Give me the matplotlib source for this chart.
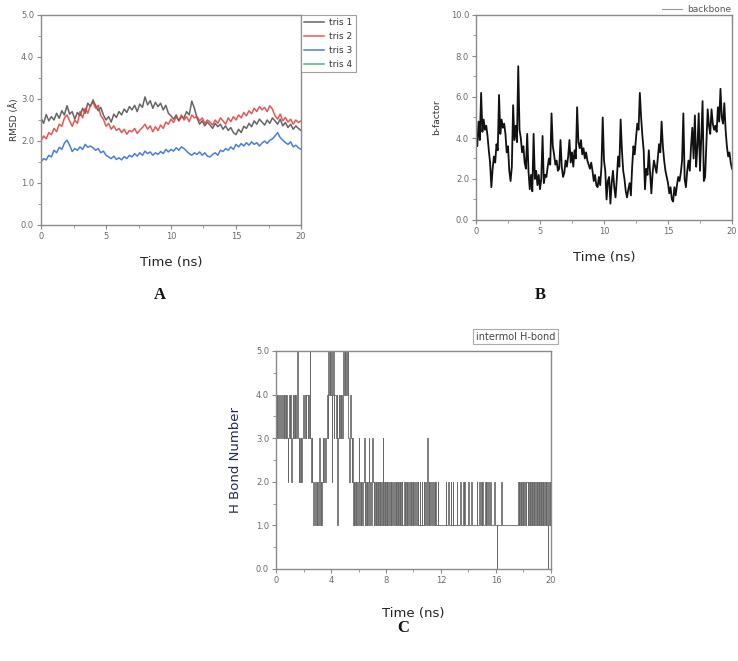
import numpy as np
import matplotlib
matplotlib.use("Agg")
import matplotlib.pyplot as plt
from matplotlib.ticker import MultipleLocator, FormatStrFormatter

# ---------------- data ----------------
# Panel A: RMSD (Å), sampled every 0.2 ns from 0 to 20 ns
rmsd_time = [round(0.2 * i, 1) for i in range(101)]
tris1 = [2.55, 2.42, 2.63, 2.48, 2.58, 2.50, 2.66, 2.54, 2.72, 2.62,
         2.84, 2.64, 2.70, 2.52, 2.68, 2.60, 2.78, 2.66, 2.90, 2.82,
         2.98, 2.84, 2.72, 2.80, 2.62, 2.50, 2.58, 2.45, 2.64, 2.56,
         2.70, 2.62, 2.76, 2.68, 2.82, 2.74, 2.85, 2.70, 2.88, 2.80,
         3.05, 2.86, 2.96, 2.78, 2.92, 2.82, 2.90, 2.74, 2.85, 2.66,
         2.60, 2.52, 2.62, 2.48, 2.58, 2.55, 2.70, 2.62, 2.95, 2.78,
         2.55, 2.40, 2.48, 2.36, 2.45, 2.38, 2.30, 2.42, 2.34, 2.40,
         2.28, 2.36, 2.25, 2.32, 2.20, 2.15, 2.28, 2.20, 2.35, 2.30,
         2.42, 2.34, 2.48, 2.40, 2.52, 2.45, 2.38, 2.50, 2.42, 2.55,
         2.48, 2.40, 2.52, 2.36, 2.44, 2.32, 2.40, 2.28, 2.36, 2.30,
         2.25]
tris2 = [2.00, 2.12, 2.05, 2.20, 2.15, 2.30, 2.22, 2.40, 2.35, 2.55,
         2.62, 2.48, 2.35, 2.50, 2.42, 2.70, 2.55, 2.78, 2.66, 2.85,
         2.92, 2.78, 2.85, 2.60, 2.52, 2.35, 2.42, 2.28, 2.36, 2.25,
         2.30, 2.20, 2.28, 2.16, 2.25, 2.22, 2.30, 2.18, 2.26, 2.32,
         2.40, 2.28, 2.36, 2.22, 2.34, 2.25, 2.38, 2.30, 2.45, 2.40,
         2.52, 2.44, 2.58, 2.48, 2.62, 2.50, 2.58, 2.46, 2.62, 2.55,
         2.58, 2.48, 2.55, 2.42, 2.50, 2.45, 2.38, 2.50, 2.42, 2.55,
         2.48, 2.40, 2.55, 2.46, 2.58, 2.50, 2.62, 2.55, 2.68, 2.60,
         2.72, 2.65, 2.78, 2.70, 2.82, 2.74, 2.80, 2.70, 2.84, 2.76,
         2.60, 2.52, 2.64, 2.48, 2.56, 2.45, 2.52, 2.40, 2.50, 2.44,
         2.48]
tris3 = [1.50, 1.58, 1.55, 1.66, 1.62, 1.78, 1.72, 1.85, 1.80, 1.95,
         2.02, 1.90, 1.75, 1.82, 1.78, 1.86, 1.80, 1.92, 1.85, 1.88,
         1.84, 1.78, 1.82, 1.72, 1.76, 1.66, 1.62, 1.58, 1.64, 1.56,
         1.60, 1.55, 1.63, 1.58, 1.66, 1.62, 1.70, 1.64, 1.72, 1.66,
         1.76, 1.70, 1.74, 1.66, 1.72, 1.68, 1.75, 1.70, 1.80, 1.74,
         1.80, 1.76, 1.84, 1.78, 1.86, 1.82, 1.76, 1.70, 1.66, 1.72,
         1.68, 1.74, 1.66, 1.72, 1.64, 1.62, 1.68, 1.72, 1.66, 1.78,
         1.75, 1.82, 1.78, 1.86, 1.80, 1.92, 1.86, 1.94, 1.88, 1.96,
         1.90, 1.98, 1.92, 1.96, 1.88, 1.95, 2.00, 1.94, 2.02, 2.05,
         2.12, 2.20, 2.08, 2.02, 1.96, 1.92, 1.98, 1.86, 1.90, 1.84,
         1.80]
tris4 = []  # listed in the legend, not visible in the plot
rmsd_labels = ["tris 1", "tris 2", "tris 3", "tris 4"]

# Panel B: backbone b-factor, sampled every 0.1 ns
bf_time = [round(0.1 * i, 1) for i in range(201)]
backbone = [4.0, 3.6, 4.8, 3.9, 6.2, 4.3, 4.9, 4.4, 4.6, 4.1,
            3.4, 2.8, 1.6, 2.5, 3.1, 2.8, 3.7, 3.4, 6.1, 4.2,
            4.9, 4.5, 4.7, 4.2, 3.3, 3.6, 2.4, 1.9, 2.6, 5.6,
            3.9, 4.6, 3.8, 7.5, 4.4, 4.0, 3.3, 3.6, 2.8, 2.5,
            4.2, 2.4, 1.5, 2.2, 1.4, 4.2, 2.0, 2.4, 1.7, 2.2,
            1.5, 2.0, 4.1, 1.8, 2.2, 2.1, 2.6, 3.0, 2.7, 5.2,
            3.6, 3.2, 2.7, 2.9, 2.4, 2.5, 3.9, 2.6, 2.1, 2.3,
            2.9, 2.6, 3.1, 3.9, 2.8, 3.3, 2.6, 3.4, 3.0, 5.5,
            3.8, 3.5, 3.9, 3.2, 3.5, 3.0, 3.3, 2.9, 2.7, 2.5,
            2.8, 2.4, 1.9, 2.2, 1.7, 1.6, 2.1, 1.7, 2.6, 5.0,
            2.9, 2.4, 1.0, 1.9, 2.1, 0.8, 1.8, 2.4, 1.6, 1.1,
            2.0, 3.1, 2.6, 4.9, 3.4, 2.4, 2.0, 1.4, 1.1, 1.5,
            1.8, 1.2, 2.6, 3.6, 3.2, 4.0, 4.7, 4.4, 6.2, 5.0,
            4.1, 3.4, 1.5, 2.5, 2.2, 3.4, 2.3, 1.3, 2.3, 2.9,
            2.6, 2.3, 3.0, 3.7, 3.3, 4.8, 3.6, 2.9, 2.4, 2.1,
            1.8, 1.3, 1.6, 1.0, 0.9, 1.6, 1.2, 1.7, 2.1, 1.9,
            2.3, 2.9, 5.2, 2.0, 1.6, 2.4, 2.9, 2.4, 3.6, 4.5,
            3.0, 5.1, 2.6, 3.6, 5.2, 2.4, 4.0, 5.8, 1.9, 2.1,
            3.7, 5.4, 4.6, 4.2, 5.4, 4.7, 4.4, 4.6, 4.3, 5.5,
            4.8, 6.4, 5.0, 4.7, 5.7, 4.4, 3.6, 3.1, 3.3, 2.8,
            2.5]

# Panel C: intermolecular H-bond count, sampled every 0.05 ns
hb_time = [round(0.05 * i, 2) for i in range(401)]
hbonds = [3,4,3,4,4,3,4,3,3,4,3,4,3,4,3,4,3,2,3,4,
          3,4,2,3,4,3,4,3,4,3,3,5,3,2,3,2,3,2,3,4,
          4,3,4,3,4,4,3,4,3,5,3,2,3,2,1,2,1,1,2,1,
          2,1,1,3,1,2,1,2,3,2,3,2,3,3,4,3,5,4,5,4,
          5,2,4,5,3,4,4,3,4,1,3,4,3,4,3,4,3,4,5,4,
          5,4,5,4,5,3,2,3,4,3,2,3,1,2,1,2,1,2,1,2,
          3,1,2,1,2,1,2,2,3,1,2,1,2,1,2,3,1,2,1,2,
          3,2,1,2,1,2,1,2,1,2,1,2,1,2,1,3,1,2,1,2,
          1,2,1,2,2,1,2,1,2,1,2,1,1,2,1,2,1,2,1,2,
          1,2,1,2,1,1,2,1,2,1,2,1,2,1,1,2,1,2,1,2,
          1,2,1,1,2,1,2,1,1,2,1,1,2,1,1,2,1,2,1,1,
          3,1,2,1,2,1,1,2,1,1,2,1,2,1,1,2,1,1,1,1,
          1,1,1,1,1,1,1,2,1,1,2,1,1,1,2,1,1,2,1,1,
          1,1,1,2,1,1,1,1,2,1,1,1,2,1,2,1,1,1,1,1,
          2,1,1,1,2,1,1,1,1,1,1,1,2,1,1,1,2,1,2,1,
          2,1,1,1,2,1,2,1,1,2,1,1,2,1,1,1,1,2,1,1,
          1,0,1,1,1,1,1,1,2,1,1,1,1,1,1,1,1,1,1,1,
          1,1,1,1,1,1,1,1,1,1,1,1,2,1,2,1,2,1,2,1,
          2,1,2,1,2,2,1,2,1,2,1,2,1,2,1,2,1,2,1,2,
          1,2,1,2,1,2,1,2,1,2,1,2,1,2,1,0,2,1,2,1,
          2]

# ---------------- figure ----------------
W, H = 738, 661
fig = plt.figure(figsize=(W / 100, H / 100), dpi=100)
fig.patch.set_facecolor("white")

def rect(l, t, r, b):
    return [l / W, 1 - b / H, (r - l) / W, (b - t) / H]

TICK_C = "#6a6a6a"
SPINE_C = "#8a8a8a"

def style(ax, xmaj, xmin, ymaj, ymin):
    for s in ax.spines.values():
        s.set_color(SPINE_C)
        s.set_linewidth(1.0)
    ax.xaxis.set_major_locator(MultipleLocator(xmaj))
    ax.xaxis.set_minor_locator(MultipleLocator(xmin))
    ax.yaxis.set_major_locator(MultipleLocator(ymaj))
    ax.yaxis.set_minor_locator(MultipleLocator(ymin))
    ax.yaxis.set_major_formatter(FormatStrFormatter("%.1f"))
    ax.tick_params(which="both", direction="out", colors=SPINE_C,
                   labelcolor=TICK_C, labelsize=6, top=False, right=False)
    ax.tick_params(which="major", length=3, width=0.8, pad=2)
    ax.tick_params(which="minor", length=2, width=0.6)

# Panel A
axA = fig.add_axes(rect(41, 15, 301, 225))
colorsA = ["#4a4a4a", "#e23a3a", "#2a66dd", "#2aa868"]
for lab, ser, c in zip(rmsd_labels, [tris1, tris2, tris3, tris4], colorsA):
    axA.plot(rmsd_time[:len(ser)], ser, color=c, lw=1.1, alpha=0.85, label=lab)
axA.set_xlim(0, 20)
axA.set_ylim(0, 5)
style(axA, 5, 2.5, 1, 0.5)
axA.xaxis.set_major_formatter(FormatStrFormatter("%d"))
axA.set_ylabel("RMSD (Å)", fontsize=6.5, color="#333333", labelpad=1)
axA.set_xlabel("Time (ns)", fontsize=9.5, color="#222222", labelpad=11)
legA = axA.legend(loc="upper left", bbox_to_anchor=(1.0, 1.0), fontsize=6.5,
                  frameon=True, fancybox=False, borderaxespad=0.0,
                  handlelength=2.2, handletextpad=0.6, labelspacing=0.55,
                  borderpad=0.35)
legA.get_frame().set_edgecolor(SPINE_C)
legA.get_frame().set_linewidth(0.8)
for t in legA.get_texts():
    t.set_color("#333333")

# Panel B
axB = fig.add_axes(rect(476, 15, 732, 220))
axB.plot(bf_time, backbone, color="#111111", lw=1.3, label="backbone")
axB.set_xlim(0, 20)
axB.set_ylim(0, 10)
style(axB, 5, 2.5, 2, 1)
axB.xaxis.set_major_formatter(FormatStrFormatter("%d"))
axB.set_ylabel("b-factor", fontsize=6.5, color="#333333", labelpad=7)
axB.set_xlabel("Time (ns)", fontsize=9.5, color="#222222", labelpad=11)
legB = axB.legend(loc="lower right", bbox_to_anchor=(1.0, 1.0), fontsize=6.5,
                  frameon=False, borderaxespad=0.0, handlelength=2.2,
                  handletextpad=0.6, borderpad=0.1)
for t in legB.get_texts():
    t.set_color("#555555")
for l in legB.get_lines():
    l.set_color("#999999")
    l.set_linewidth(0.8)

# Panel C
axC = fig.add_axes(rect(276, 351, 551, 569))
axC.plot(hb_time, hbonds, color="#333333", lw=0.6, alpha=0.75,
         drawstyle="steps-post")
axC.set_xlim(0, 20)
axC.set_ylim(0, 5)
style(axC, 4, 2, 1, 0.5)
axC.xaxis.set_major_formatter(FormatStrFormatter("%d"))
axC.set_ylabel("H Bond Number", fontsize=9.5, color="#1f2a55", labelpad=10)
axC.set_xlabel("Time (ns)", fontsize=9.5, color="#222222", labelpad=16)
axC.text(1.015, 1.065, "intermol H-bond", transform=axC.transAxes,
         ha="right", va="center", fontsize=7, color="#444444",
         bbox=dict(boxstyle="square,pad=0.25", fc="white", ec="#aaaaaa", lw=0.8))

# Panel letters
for s, x, y in [("A", 160, 295), ("B", 540, 295), ("C", 403, 628)]:
    fig.text(x / W, 1 - y / H, s, ha="center", va="center", fontsize=12,
             fontweight="bold", family="Liberation Serif", color="#111111")

fig.savefig("out.png", dpi=100, facecolor="white")
